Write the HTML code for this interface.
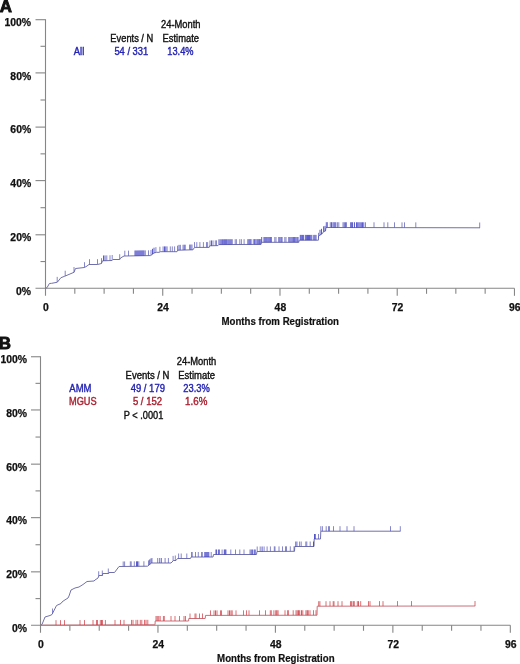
<!DOCTYPE html>
<html><head><meta charset="utf-8"><title>Cumulative incidence</title><style>
html,body{margin:0;padding:0;background:#fff;width:520px;height:664px;overflow:hidden}
svg{display:block;will-change:transform}
text{font-family:'Liberation Sans', sans-serif}
.tl{font-size:10.4px;font-weight:bold;stroke:currentColor;stroke-width:0.25px}
.xt{font-size:10.2px;font-weight:bold;stroke:currentColor;stroke-width:0.2px}
.lg{font-size:10px;stroke:currentColor;stroke-width:0.38px}
.pl{font-size:16.9px;font-weight:bold;stroke:currentColor;stroke-width:0.9px}
</style></head>
<body>
<svg width="520" height="664" viewBox="0 0 520 664">
<g stroke="#868686" stroke-width="1.1" fill="none">
<line x1="45.5" y1="19.15" x2="45.5" y2="295.8" />
<line x1="35.5" y1="288.3" x2="514.46" y2="288.3" />
<line x1="40.5" y1="261.55" x2="45.5" y2="261.55" />
<line x1="35.5" y1="234.80" x2="45.5" y2="234.80" />
<line x1="40.5" y1="207.70" x2="45.5" y2="207.70" />
<line x1="35.5" y1="180.60" x2="45.5" y2="180.60" />
<line x1="40.5" y1="153.85" x2="45.5" y2="153.85" />
<line x1="35.5" y1="127.10" x2="45.5" y2="127.10" />
<line x1="40.5" y1="100.00" x2="45.5" y2="100.00" />
<line x1="35.5" y1="72.90" x2="45.5" y2="72.90" />
<line x1="40.5" y1="46.30" x2="45.5" y2="46.30" />
<line x1="35.5" y1="19.70" x2="45.5" y2="19.70" />
<line x1="74.81" y1="288.3" x2="74.81" y2="293.8" />
<line x1="104.12" y1="288.3" x2="104.12" y2="293.8" />
<line x1="133.43" y1="288.3" x2="133.43" y2="293.8" />
<line x1="162.74" y1="288.3" x2="162.74" y2="295.8" />
<line x1="192.05" y1="288.3" x2="192.05" y2="293.8" />
<line x1="221.36" y1="288.3" x2="221.36" y2="293.8" />
<line x1="250.67" y1="288.3" x2="250.67" y2="293.8" />
<line x1="279.98" y1="288.3" x2="279.98" y2="295.8" />
<line x1="309.29" y1="288.3" x2="309.29" y2="293.8" />
<line x1="338.60" y1="288.3" x2="338.60" y2="293.8" />
<line x1="367.91" y1="288.3" x2="367.91" y2="293.8" />
<line x1="397.22" y1="288.3" x2="397.22" y2="295.8" />
<line x1="426.53" y1="288.3" x2="426.53" y2="293.8" />
<line x1="455.84" y1="288.3" x2="455.84" y2="293.8" />
<line x1="485.15" y1="288.3" x2="485.15" y2="293.8" />
<line x1="514.46" y1="288.3" x2="514.46" y2="295.8" />
<line x1="40.5" y1="356.20" x2="40.5" y2="632.8" />
<line x1="31.0" y1="625.3" x2="510.324" y2="625.3" />
<line x1="35.5" y1="598.60" x2="40.5" y2="598.60" />
<line x1="31.0" y1="571.85" x2="40.5" y2="571.85" />
<line x1="35.5" y1="544.75" x2="40.5" y2="544.75" />
<line x1="31.0" y1="517.65" x2="40.5" y2="517.65" />
<line x1="35.5" y1="490.90" x2="40.5" y2="490.90" />
<line x1="31.0" y1="464.15" x2="40.5" y2="464.15" />
<line x1="35.5" y1="437.05" x2="40.5" y2="437.05" />
<line x1="31.0" y1="409.95" x2="40.5" y2="409.95" />
<line x1="35.5" y1="383.35" x2="40.5" y2="383.35" />
<line x1="31.0" y1="356.75" x2="40.5" y2="356.75" />
<line x1="69.86" y1="625.3" x2="69.86" y2="630.8" />
<line x1="99.23" y1="625.3" x2="99.23" y2="630.8" />
<line x1="128.59" y1="625.3" x2="128.59" y2="630.8" />
<line x1="157.96" y1="625.3" x2="157.96" y2="632.8" />
<line x1="187.32" y1="625.3" x2="187.32" y2="630.8" />
<line x1="216.68" y1="625.3" x2="216.68" y2="630.8" />
<line x1="246.05" y1="625.3" x2="246.05" y2="630.8" />
<line x1="275.41" y1="625.3" x2="275.41" y2="632.8" />
<line x1="304.78" y1="625.3" x2="304.78" y2="630.8" />
<line x1="334.14" y1="625.3" x2="334.14" y2="630.8" />
<line x1="363.50" y1="625.3" x2="363.50" y2="630.8" />
<line x1="392.87" y1="625.3" x2="392.87" y2="632.8" />
<line x1="422.23" y1="625.3" x2="422.23" y2="630.8" />
<line x1="451.60" y1="625.3" x2="451.60" y2="630.8" />
<line x1="480.96" y1="625.3" x2="480.96" y2="630.8" />
<line x1="510.32" y1="625.3" x2="510.32" y2="632.8" />
</g>
<g fill="none">
<path d="M45.50,288.30 L47.00,287.70 L49.40,283.50 L51.70,283.30 L57.00,282.30 L57.50,282.00 L60.90,277.70 L64.80,276.20 L74.00,272.30 L75.50,268.50 L84.50,267.50 L87.00,266.00 L89.00,264.50 L97.50,264.50 L101.50,263.50 L102.50,260.80 L112.00,260.50 L113.00,259.50 L119.70,259.50 L120.50,258.00 L124.00,256.00 L150.50,255.60 L152.00,254.50 L154.00,253.00 L156.50,252.30 L159.50,252.30 L160.50,251.70 L177.00,251.70 L178.00,250.20 L193.00,249.80 L194.50,247.40 L209.20,247.40 L209.60,245.80 L218.00,245.60 L218.80,244.60 L261.00,244.40 L261.30,242.30 L298.80,242.30 L299.20,240.20 L318.40,240.20 L318.60,236.00 L322.50,233.50 L323.40,231.70 L325.50,231.00 L326.00,227.50 L480.00,227.80" stroke="#7070ac" stroke-width="1.0"/>
<path d="M57.20,282.18V276.88M65.20,276.03V270.73M74.00,272.30V267.00M84.50,267.50V262.20M89.50,264.50V259.20M97.50,264.50V259.20M101.50,263.50V258.20M106.80,260.66V255.36M110.00,260.56V255.26M112.20,260.30V255.00M119.70,259.50V254.20M124.80,255.99V250.69M128.50,255.93V250.63M145.30,255.68V250.38M148.50,255.63V250.33M151.00,255.23V249.93M155.90,252.47V247.17M159.90,252.06V246.76M163.10,251.70V246.40M167.10,251.70V246.40M170.30,251.70V246.40M172.30,251.70V246.40M174.60,251.70V246.40M177.50,250.95V245.65M180.40,250.14V244.84M183.00,250.07V244.77M185.30,250.01V244.71M189.50,249.89V244.59M192.00,249.83V244.53M194.50,247.40V242.10M196.80,247.40V242.10M199.90,247.40V242.10M203.40,247.40V242.10M206.50,247.40V242.10M207.60,247.40V242.10M210.00,245.79V240.49M213.00,245.72V240.42M215.30,245.66V240.36M216.50,245.64V240.34M218.80,244.60V239.30M232.30,244.54V239.24M235.20,244.52V239.22M236.40,244.52V239.22M239.80,244.50V239.20M241.40,244.49V239.19M244.10,244.48V239.18M253.30,244.44V239.14M274.80,242.30V237.00M276.00,242.30V237.00M278.60,242.30V237.00M284.80,242.30V237.00M286.00,242.30V237.00M288.60,242.30V237.00M318.50,238.10V232.80M327.50,227.50V222.20M330.30,227.51V222.21M338.80,227.52V222.22M343.00,227.53V222.23M346.50,227.54V222.24M365.50,227.58V222.28M374.00,227.59V222.29M384.00,227.61V222.31M387.80,227.62V222.32M394.50,227.63V222.33M402.00,227.65V222.35M404.50,227.65V222.35M415.80,227.67V222.37M479.70,227.80V222.50" stroke="#5e5eb8" stroke-width="0.75"/>
<path d="M103.50,260.77V255.47M105.00,260.72V255.42M135.00,255.83V250.53M136.00,255.82V250.52M137.00,255.80V250.50M138.00,255.79V250.49M139.00,255.77V250.47M140.00,255.76V250.46M141.00,255.74V250.44M142.00,255.73V250.43M143.00,255.71V250.41M144.00,255.70V250.40M152.50,254.12V248.82M154.00,253.00V247.70M164.50,251.70V246.40M165.80,251.70V246.40M179.00,250.17V244.87M184.20,250.03V244.73M190.80,249.86V244.56M211.50,245.75V240.45M220.00,244.59V239.29M221.20,244.59V239.29M222.40,244.58V239.28M223.70,244.58V239.28M224.70,244.57V239.27M225.70,244.57V239.27M226.70,244.56V239.26M227.90,244.56V239.26M229.00,244.55V239.25M230.10,244.55V239.25M231.20,244.54V239.24M247.90,244.46V239.16M249.00,244.46V239.16M250.00,244.45V239.15M251.00,244.45V239.15M254.60,244.43V239.13M255.90,244.42V239.12M257.20,244.42V239.12M258.30,244.41V239.11M259.60,244.41V239.11M260.80,244.40V239.10M261.70,242.30V237.00M264.00,242.30V237.00M265.00,242.30V237.00M266.00,242.30V237.00M267.00,242.30V237.00M268.10,242.30V237.00M269.20,242.30V237.00M270.30,242.30V237.00M271.30,242.30V237.00M279.80,242.30V237.00M281.00,242.30V237.00M282.00,242.30V237.00M289.80,242.30V237.00M291.00,242.30V237.00M292.20,242.30V237.00M293.40,242.30V237.00M294.60,242.30V237.00M295.80,242.30V237.00M297.00,242.30V237.00M298.00,242.30V237.00M300.30,240.20V234.90M301.30,240.20V234.90M302.40,240.20V234.90M303.40,240.20V234.90M305.30,240.20V234.90M306.40,240.20V234.90M307.50,240.20V234.90M308.50,240.20V234.90M309.50,240.20V234.90M310.70,240.20V234.90M311.80,240.20V234.90M313.80,240.20V234.90M314.90,240.20V234.90M316.00,240.20V234.90M320.00,235.10V229.80M321.50,234.14V228.84M323.60,231.63V226.33M325.00,231.17V225.87M326.30,227.50V222.20M331.50,227.51V222.21M333.00,227.51V222.21M334.20,227.52V222.22M335.30,227.52V222.22M337.20,227.52V222.22M344.20,227.54V222.24M345.40,227.54V222.24M350.70,227.55V222.25M351.70,227.55V222.25M352.60,227.55V222.25M354.50,227.56V222.26M356.50,227.56V222.26M357.70,227.56V222.26M358.90,227.56V222.26M360.10,227.57V222.27M361.30,227.57V222.27M362.50,227.57V222.27M363.80,227.57V222.27" stroke="#3232c0" stroke-width="0.8"/>
<path d="M40.50,625.20 L155.00,624.80 L155.20,621.00 L188.60,621.00 L188.80,618.50 L205.20,618.50 L205.50,615.40 L317.00,615.20 L317.20,606.20 L475.20,606.00" stroke="#c87078" stroke-width="1.0"/>
<path d="M56.00,625.15V620.15M60.50,625.13V620.13M64.50,625.12V620.12M80.00,625.06V620.06M84.50,625.05V620.05M93.00,625.02V620.02M96.50,625.00V620.00M97.50,625.00V620.00M100.30,624.99V619.99M102.50,624.98V619.98M105.40,624.97V619.97M115.00,624.94V619.94M120.50,624.92V619.92M124.00,624.91V619.91M131.50,624.88V619.88M133.00,624.88V619.88M136.00,624.87V619.87M137.70,624.86V619.86M140.30,624.85V619.85M141.80,624.85V619.85M144.50,624.84V619.84M147.80,624.83V619.83M156.00,621.00V616.00M160.20,621.00V616.00M163.40,621.00V616.00M164.30,621.00V616.00M171.00,621.00V616.00M175.00,621.00V616.00M179.50,621.00V616.00M184.00,621.00V616.00M185.50,621.00V616.00M190.00,618.50V613.50M195.00,618.50V613.50M196.00,618.50V613.50M199.50,618.50V613.50M202.50,618.50V613.50M210.50,615.39V610.39M214.00,615.38V610.38M217.00,615.38V610.38M220.50,615.37V610.37M221.50,615.37V610.37M228.00,615.36V610.36M232.20,615.35V610.35M236.00,615.35V610.35M243.50,615.33V610.33M246.50,615.33V610.33M249.00,615.32V610.32M259.50,615.30V610.30M265.50,615.29V610.29M270.30,615.28V610.28M271.30,615.28V610.28M273.90,615.28V610.28M285.00,615.26V610.26M287.60,615.25V610.25M288.40,615.25V610.25M293.20,615.24V610.24M296.00,615.24V610.24M302.80,615.23V610.23M310.00,615.21V610.21M313.50,615.21V610.21M316.00,615.20V610.20M318.70,606.20V601.20M319.90,606.20V601.20M326.00,606.19V601.19M330.00,606.18V601.18M333.20,606.18V601.18M334.00,606.18V601.18M338.00,606.17V601.17M342.00,606.17V601.17M350.50,606.16V601.16M354.30,606.15V601.15M357.30,606.15V601.15M360.70,606.14V601.14M368.50,606.14V601.14M370.00,606.13V601.13M379.50,606.12V601.12M383.00,606.12V601.12M397.50,606.10V601.10M411.50,606.08V601.08M475.00,606.00V601.00" stroke="#d04048" stroke-width="0.75"/>
<path d="M101.50,624.99V619.99M146.00,624.83V619.83M157.20,621.00V616.00M158.80,621.00V616.00M215.50,615.38V610.38M229.50,615.36V610.36M231.00,615.35V610.35M275.80,615.27V610.27M276.80,615.27V610.27M278.00,615.27V610.27M297.20,615.24V610.24M298.50,615.23V610.23M299.70,615.23V610.23M301.50,615.23V610.23M306.00,615.22V610.22M307.30,615.22V610.22M308.20,615.22V610.22M351.70,606.16V601.16M353.30,606.15V601.15M358.50,606.15V601.15" stroke="#c83038" stroke-width="0.8"/>
<path d="M40.50,625.30 L42.00,624.50 L45.00,617.00 L50.00,615.50 L52.00,614.50 L56.50,605.50 L61.00,603.50 L62.00,602.00 L64.00,600.50 L68.00,598.00 L69.00,596.00 L71.00,590.00 L75.00,588.00 L79.00,587.00 L83.00,584.50 L87.00,581.50 L94.00,581.00 L95.00,580.00 L98.00,578.00 L99.00,575.50 L102.50,575.50 L102.70,573.50 L108.70,573.50 L109.00,572.50 L114.50,572.50 L119.00,566.50 L147.50,566.20 L151.50,563.00 L171.00,563.00 L173.50,560.50 L176.00,560.50 L177.50,558.50 L190.50,558.50 L191.20,557.00 L213.00,557.00 L213.50,554.50 L256.50,554.50 L257.00,551.50 L294.50,551.30 L294.80,546.50 L314.00,546.50 L314.20,539.00 L320.50,539.00 L320.80,531.20 L400.50,531.20" stroke="#7070ac" stroke-width="1.0"/>
<path d="M52.50,613.50V608.50M98.70,576.25V571.25M102.30,575.50V570.50M108.30,573.50V568.50M123.20,566.46V561.46M124.60,566.44V561.44M130.30,566.38V561.38M131.20,566.37V561.37M134.30,566.34V561.34M138.80,566.29V561.29M143.90,566.24V561.24M148.50,565.40V560.40M152.00,563.00V558.00M157.70,563.00V558.00M161.50,563.00V558.00M165.10,563.00V558.00M168.40,563.00V558.00M173.10,560.90V555.90M175.30,560.50V555.50M178.60,558.50V553.50M181.20,558.50V553.50M186.80,558.50V553.50M191.60,557.00V552.00M192.20,557.00V552.00M195.50,557.00V552.00M198.30,557.00V552.00M201.60,557.00V552.00M202.30,557.00V552.00M211.20,557.00V552.00M215.80,554.50V549.50M219.50,554.50V549.50M222.10,554.50V549.50M230.80,554.50V549.50M235.50,554.50V549.50M239.80,554.50V549.50M244.00,554.50V549.50M250.00,554.50V549.50M257.20,551.50V546.50M260.20,551.48V546.48M264.10,551.46V546.46M267.10,551.45V546.45M270.40,551.43V546.43M274.30,551.41V546.41M275.00,551.40V546.40M279.00,551.38V546.38M282.50,551.36V546.36M285.50,551.35V546.35M286.50,551.34V546.34M290.30,551.32V546.32M294.00,551.30V546.30M297.00,546.50V541.50M299.60,546.50V541.50M301.20,546.50V541.50M305.80,546.50V541.50M306.80,546.50V541.50M310.20,546.50V541.50M318.50,539.00V534.00M320.80,531.20V526.20M322.40,531.20V526.20M326.20,531.20V526.20M328.50,531.20V526.20M329.50,531.20V526.20M333.50,531.20V526.20M340.00,531.20V526.20M347.00,531.20V526.20M354.00,531.20V526.20M390.50,531.20V526.20M400.30,531.20V526.20" stroke="#5e5eb8" stroke-width="0.75"/>
<path d="M136.50,566.32V561.32M137.50,566.31V561.31M149.70,564.44V559.44M151.00,563.40V558.40M159.80,563.00V558.00M204.80,557.00V552.00M205.80,557.00V552.00M206.80,557.00V552.00M207.80,557.00V552.00M208.80,557.00V552.00M216.60,554.50V549.50M218.60,554.50V549.50M224.30,554.50V549.50M225.10,554.50V549.50M225.90,554.50V549.50M251.20,554.50V549.50M252.40,554.50V549.50M254.20,554.50V549.50M255.20,554.50V549.50M262.10,551.47V546.47M295.80,546.50V541.50M313.50,546.50V541.50M314.50,539.00V534.00M315.30,539.00V534.00" stroke="#3232c0" stroke-width="0.8"/>
</g>
<g fill="#111" color="#111">
<text x="16.08" y="294.55" class="tl">0%</text>
<text x="11.93" y="631.65" class="tl">0%</text>
<text x="10.36" y="240.85" class="tl">20%</text>
<text x="6.21" y="577.95" class="tl">20%</text>
<text x="10.36" y="187.15" class="tl">40%</text>
<text x="6.21" y="524.25" class="tl">40%</text>
<text x="10.36" y="133.45" class="tl">60%</text>
<text x="6.21" y="470.55" class="tl">60%</text>
<text x="10.36" y="79.75" class="tl">80%</text>
<text x="6.21" y="416.85" class="tl">80%</text>
<text x="4.54" y="26.05" class="tl">100%</text>
<text x="0.39" y="363.15" class="tl">100%</text>
<text x="42.99" y="311.10" class="tl">0</text>
<text x="37.99" y="647.90" class="tl">0</text>
<text x="157.16" y="311.20" class="tl">24</text>
<text x="152.38" y="648.00" class="tl">24</text>
<text x="274.61" y="311.10" class="tl">48</text>
<text x="270.04" y="647.90" class="tl">48</text>
<text x="391.80" y="311.20" class="tl">72</text>
<text x="387.45" y="648.00" class="tl">72</text>
<text x="509.04" y="311.10" class="tl">96</text>
<text x="504.90" y="647.90" class="tl">96</text>
<text x="221.52" y="324.50" class="xt" textLength="117.42" lengthAdjust="spacingAndGlyphs">Months from Registration</text>
<text x="217.12" y="661.50" class="xt" textLength="117.42" lengthAdjust="spacingAndGlyphs">Months from Registration</text>
<text x="-0.21" y="12.42" class="pl">A</text>
<text x="-1.24" y="349.05" class="pl">B</text>
<text x="161.03" y="28.10" class="lg" textLength="39.47" lengthAdjust="spacingAndGlyphs">24-Month</text>
<text x="110.36" y="41.55" class="lg" textLength="42.91" lengthAdjust="spacingAndGlyphs">Events / N</text>
<text x="162.55" y="41.55" class="lg" textLength="36.53" lengthAdjust="spacingAndGlyphs">Estimate</text>
<text x="73.80" y="55.10" class="lg" textLength="10.48" lengthAdjust="spacingAndGlyphs" fill="#2424b4" color="#2424b4">All</text>
<text x="114.43" y="55.00" class="lg" textLength="33.78" lengthAdjust="spacingAndGlyphs" fill="#2424b4" color="#2424b4">54 / 331</text>
<text x="167.36" y="55.00" class="lg" textLength="26.17" lengthAdjust="spacingAndGlyphs" fill="#2424b4" color="#2424b4">13.4%</text>
<text x="176.73" y="365.10" class="lg" textLength="39.57" lengthAdjust="spacingAndGlyphs">24-Month</text>
<text x="125.54" y="378.55" class="lg" textLength="43.95" lengthAdjust="spacingAndGlyphs">Events / N</text>
<text x="178.29" y="378.55" class="lg" textLength="36.79" lengthAdjust="spacingAndGlyphs">Estimate</text>
<text x="69.30" y="392.10" class="lg" textLength="22.19" lengthAdjust="spacingAndGlyphs" fill="#2424b4" color="#2424b4">AMM</text>
<text x="130.71" y="392.00" class="lg" textLength="34.21" lengthAdjust="spacingAndGlyphs" fill="#2424b4" color="#2424b4">49 / 179</text>
<text x="183.33" y="392.00" class="lg" textLength="26.45" lengthAdjust="spacingAndGlyphs" fill="#2424b4" color="#2424b4">23.3%</text>
<text x="69.06" y="405.45" class="lg" textLength="27.60" lengthAdjust="spacingAndGlyphs" fill="#aa2030" color="#aa2030">MGUS</text>
<text x="132.92" y="405.45" class="lg" textLength="29.14" lengthAdjust="spacingAndGlyphs" fill="#aa2030" color="#aa2030">5 / 152</text>
<text x="185.12" y="405.45" class="lg" textLength="22.21" lengthAdjust="spacingAndGlyphs" fill="#aa2030" color="#aa2030">1.6%</text>
<text x="123.76" y="418.90" class="lg" textLength="39.51" lengthAdjust="spacingAndGlyphs">P &lt; .0001</text>
</g>
</svg>
</body></html>
